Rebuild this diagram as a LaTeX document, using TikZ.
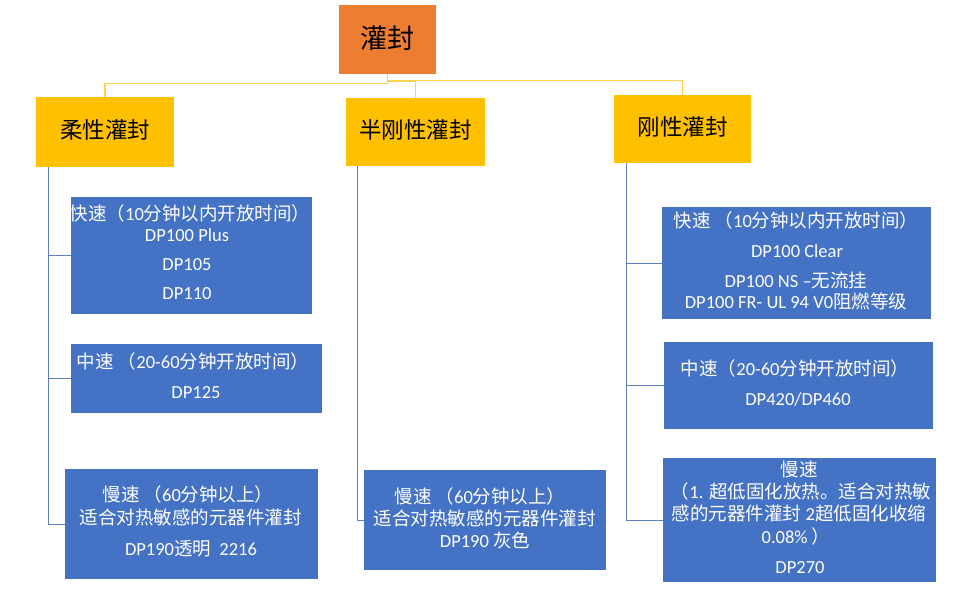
\documentclass[tikz,border=0pt]{standalone}
\usepackage{fontspec}
\setmainfont{Noto Sans CJK SC}
\newfontfamily\latf{Carlito}
\newcommand\lt[1]{{\latf #1}}
\definecolor{rootc}{HTML}{ED7D31}
\definecolor{goldc}{HTML}{FFC000}
\definecolor{bluec}{HTML}{4472C4}
\definecolor{linkc}{HTML}{FFD24D}
\definecolor{bluelink}{HTML}{5B7FC6}
\begin{document}
\begin{tikzpicture}[x=1pt,y=-1pt,
  rootbox/.style={fill=rootc,draw=none,inner sep=0pt},
  goldbox/.style={fill=goldc,draw=none,inner sep=0pt},
  bluebox/.style={fill=bluec,draw=none,inner sep=0pt},
  wtxt/.style={text=white,font=\fontsize{18.5}{20}\selectfont,inner sep=0pt,text height=14pt,text depth=4pt},
  btxt/.style={text=black,inner sep=0pt},
  goldlink/.style={draw=linkc,line width=1.3pt},
  bluelinkst/.style={draw=bluelink,line width=0.9pt}]
\useasboundingbox (0,0) rectangle (953,591);
\fill[white] (0,0) rectangle (953,591);

% boxes
\node[rootbox,minimum width=97pt,minimum height=69pt] (root) at (387.5,39.5) {};
\node[btxt,font=\fontsize{27}{30}\selectfont] (roott) at (387,38) {灌封};

\node[goldbox,minimum width=138pt,minimum height=70pt] (soft) at (105,132) {};
\node[btxt,font=\fontsize{22.5}{25}\selectfont] (softt) at (105,130) {柔性灌封};
\node[goldbox,minimum width=139pt,minimum height=68pt] (semi) at (415.5,132) {};
\node[btxt,font=\fontsize{22.5}{25}\selectfont] (semit) at (415.5,130) {半刚性灌封};
\node[goldbox,minimum width=137pt,minimum height=68pt] (rigid) at (682.5,129) {};
\node[btxt,font=\fontsize{22.5}{25}\selectfont] (rigidt) at (682.5,127) {刚性灌封};

% left column
\node[bluebox,minimum width=241pt,minimum height=117pt] (la) at (191.5,255.5) {};
\node[wtxt] (la1) at (190,215) {快速（\lt{10}分钟以内开放时间）};
\node[wtxt] (la2) at (187,236) {\lt{DP100 Plus}};
\node[wtxt] (la3) at (187,265) {\lt{DP105}};
\node[wtxt] (la4) at (187,294) {\lt{DP110}};

\node[bluebox,minimum width=251pt,minimum height=69pt] (lb) at (196.5,378.5) {};
\node[wtxt] (lb1) at (193,363) {中速 （\lt{20-60}分钟开放时间）};
\node[wtxt] (lb2) at (196,393) {\lt{DP125}};

\node[bluebox,minimum width=253pt,minimum height=110pt] (lc) at (191.5,524) {};
\node[wtxt] (lc1) at (188,496) {慢速 （\lt{60}分钟以上）};
\node[wtxt] (lc2) at (190.5,519) {适合对热敏感的元器件灌封};
\node[wtxt] (lc3) at (191,550) {\lt{DP190}透明\lt{\ \ 2216}};

% middle column
\node[bluebox,minimum width=242pt,minimum height=100pt] (ma) at (485,520) {};
\node[wtxt] (ma1) at (480,498) {慢速 （\lt{60}分钟以上）};
\node[wtxt] (ma2) at (484.5,520) {适合对热敏感的元器件灌封};
\node[wtxt] (ma3) at (485,542) {\lt{DP190} 灰色};

% right column
\node[bluebox,minimum width=269pt,minimum height=112pt] (ra) at (796.5,263) {};
\node[wtxt] (ra1) at (796,222) {快速 （\lt{10}分钟以内开放时间）};
\node[wtxt] (ra2) at (797,252) {\lt{DP100 Clear}};
\node[wtxt] (ra3) at (796,282) {\lt{DP100 NS –}无流挂};
\node[wtxt] (ra4) at (796,303) {\lt{DP100 FR- UL 94 V0}阻燃等级};

\node[bluebox,minimum width=269pt,minimum height=87pt] (rb) at (798.5,385.5) {};
\node[wtxt] (rb1) at (795,370) {中速（\lt{20-60}分钟开放时间）};
\node[wtxt] (rb2) at (798,400) {\lt{DP420/DP460}};

\node[bluebox,minimum width=273pt,minimum height=124pt] (rc) at (799.5,520) {};
\node[wtxt] (rc1) at (799,471) {慢速};
\node[wtxt] (rc2) at (801,493) {（\lt{1. }超低固化放热。适合对热敏};
\node[wtxt] (rc3) at (799,515) {感的元器件灌封\lt{ 2}超低固化收缩};
\node[wtxt] (rc4) at (796,538) {\lt{0.08\% }）};
\node[wtxt] (rc5) at (800,568) {\lt{DP270}};

% gold connectors
\draw[goldlink] (root.south) -- ++(0,9.5) -| (soft.north);
\draw[goldlink] (root.south) ++(0,7.5) -| (semi.north);
\draw[goldlink] (root.south) ++(0,6) -| (rigid.north);

% blue connectors
\draw[bluelinkst] ([xshift=13pt]soft.south west) |- (la.west);
\draw[bluelinkst] ([xshift=13pt]soft.south west) |- (lb.west);
\draw[bluelinkst] ([xshift=13pt]soft.south west) |- (lc.west);
\draw[bluelinkst] ([xshift=12pt]semi.south west) |- (ma.west);
\draw[bluelinkst] ([xshift=13pt]rigid.south west) |- (ra.west);
\draw[bluelinkst] ([xshift=13pt]rigid.south west) |- (rb.west);
\draw[bluelinkst] ([xshift=13pt]rigid.south west) |- (rc.west);
\end{tikzpicture}
\end{document}
